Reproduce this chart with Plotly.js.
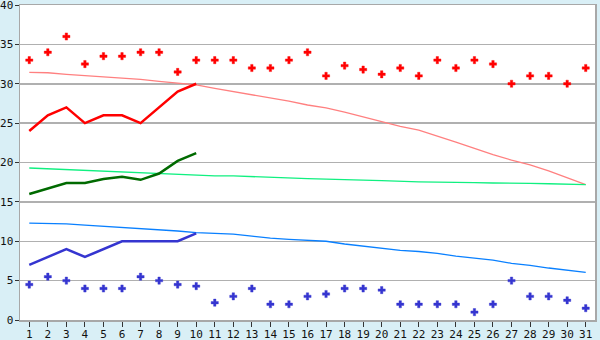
<!DOCTYPE html>
<html>
<head>
<meta charset="utf-8">
<script src="https://cdn.plot.ly/plotly-3.0.1.min.js"></script>
<style>html,body{margin:0;padding:0;background:#d9eff6;}#chart{width:600px;height:340px;}</style>
</head>
<body>
<div id="chart"></div>
<script>
const days = Array.from({length: 31}, (_, i) => i + 1);
const tickLabels = days.map(String);

const recordHigh = [33, 34, 36, 32.5, 33.5, 33.5, 34, 34, 31.5, 33, 33, 33, 32, 32, 33, 34, 31, 32.3, 31.8, 31.2, 32, 31, 33, 32, 33, 32.5, 30, 31, 31, 30, 32];
const recordLow = [4.5, 5.5, 5, 4, 4, 4, 5.5, 5, 4.5, 4.3, 2.2, 3, 4, 2, 2, 3, 3.3, 4, 4, 3.8, 2, 2, 2, 2, 1, 2, 5, 3, 3, 2.5, 1.5];
const maxTemp = [24, 26, 27, 25, 26, 26, 25, 27, 29, 30];
const meanTemp = [16, 16.7, 17.4, 17.4, 17.9, 18.2, 17.8, 18.6, 20.2, 21.2];
const minTemp = [7, 8, 9, 8, 9, 10, 10, 10, 10, 11];
const normalMax = [31.45, 31.4, 31.2, 31.05, 30.9, 30.75, 30.55, 30.3, 30.1, 29.85, 29.4, 29.0, 28.65, 28.2, 27.8, 27.3, 26.95, 26.4, 25.8, 25.2, 24.6, 24.1, 23.4, 22.6, 21.8, 21.0, 20.3, 19.7, 18.95, 18.1, 17.2];
const normalMean = [19.3, 19.2, 19.1, 19.0, 18.9, 18.8, 18.75, 18.6, 18.5, 18.4, 18.3, 18.3, 18.2, 18.1, 18.0, 17.95, 17.9, 17.8, 17.75, 17.7, 17.6, 17.55, 17.5, 17.5, 17.45, 17.4, 17.4, 17.35, 17.3, 17.25, 17.2];
const normalMin = [12.3, 12.25, 12.2, 12.05, 11.9, 11.8, 11.65, 11.5, 11.3, 11.1, 11.0, 10.9, 10.65, 10.4, 10.25, 10.1, 10.0, 9.65, 9.4, 9.1, 8.85, 8.7, 8.45, 8.1, 7.85, 7.6, 7.2, 6.95, 6.6, 6.3, 6.05];
const yTicks = [0, 5, 10, 15, 20, 25, 30, 35, 40];

const traces = [
  {x: days, y: normalMax, mode: 'lines', line: {color: '#ff8080', width: 1.3}},
  {x: days, y: normalMean, mode: 'lines', line: {color: '#10f080', width: 1.3}},
  {x: days, y: normalMin, mode: 'lines', line: {color: '#0a80ff', width: 1.3}},
  {x: days.slice(0, maxTemp.length), y: maxTemp, mode: 'lines', line: {color: '#ff0000', width: 2.5}},
  {x: days.slice(0, meanTemp.length), y: meanTemp, mode: 'lines', line: {color: '#006a00', width: 2.5}},
  {x: days.slice(0, minTemp.length), y: minTemp, mode: 'lines', line: {color: '#3535d0', width: 2.5}},
  {x: days, y: recordHigh, mode: 'markers', marker: {symbol: 'cross', size: 6, color: '#ff0000', line: {color: '#ff0000', width: 0.4}}},
  {x: days, y: recordLow, mode: 'markers', marker: {symbol: 'cross', size: 6, color: '#3535d0', line: {color: '#3535d0', width: 0.4}}}
];

const layout = {
  width: 600, height: 340,
  margin: {l: 20, r: 5, t: 5, b: 20, pad: 0},
  paper_bgcolor: '#d9eff6',
  plot_bgcolor: '#ffffff',
  showlegend: false,
  font: {family: 'DejaVu Sans Mono, monospace', size: 11, color: '#111'},
  xaxis: {
    range: [0.5, 31.5], tickvals: days, ticktext: tickLabels,
    showgrid: false, zeroline: false,
    showline: true, linecolor: '#a8a8a8', linewidth: 1.5, mirror: true,
    ticks: 'outside', ticklen: 5, tickcolor: '#333', tickwidth: 1,
    tickfont: {size: 11}, automargin: false, ticklabelstandoff: -2,
    ticklabeloverflow: 'allow'
  },
  yaxis: {
    range: [0, 40], tickvals: yTicks, ticktext: yTicks.map(String),
    showgrid: true, gridcolor: '#b0b0b0', gridwidth: 1.5, zeroline: false,
    showline: true, linecolor: '#a8a8a8', linewidth: 1.5, mirror: true,
    ticks: 'outside', ticklen: 4, tickcolor: '#333', tickwidth: 1,
    tickfont: {size: 11}, automargin: false, ticklabelstandoff: -1,
    ticklabeloverflow: 'allow'
  }
};

Plotly.newPlot('chart', traces, layout, {displayModeBar: false, staticPlot: true});
</script>
</body>
</html>
